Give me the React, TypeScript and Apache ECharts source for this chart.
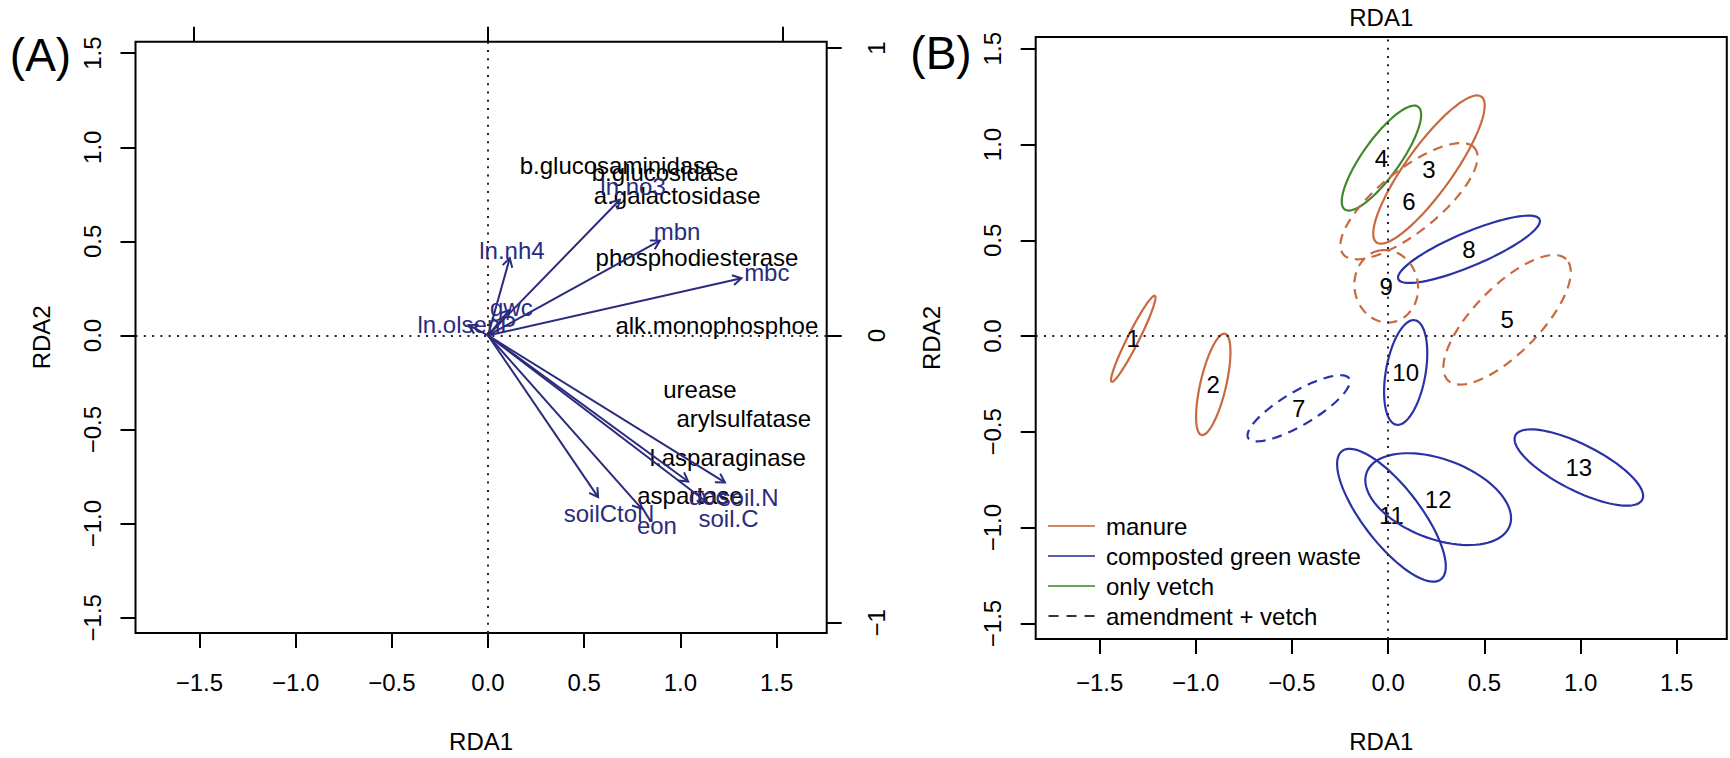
import React, { useEffect, useRef } from "react";
import * as echarts from "echarts";

// ---------- data ----------
// Panel A: environmental arrows (biplot scores)
const envNames = ["ln.nh4", "ln.no3", "mbn", "mbc", "gwc", "ln.olsenP", "soilCtoN", "eon", "doc", "soil.C", "soil.N"];
const envX = [0.113, 0.685, 0.893, 1.317, 0.11, -0.1, 0.572, 0.798, 1.04, 1.136, 1.231];
const envY = [0.411, 0.721, 0.504, 0.304, 0.135, 0.055, -0.859, -0.92, -0.776, -0.885, -0.781];

// Panel A: enzyme (species) labels
const spNames = ["b.glucosaminidase", "b.glucosidase", "a.galactosidase", "phosphodiesterase", "alk.monophosphoe", "urease", "arylsulfatase", "l.asparaginase", "aspartase"];
const spX = [0.681, 0.92, 0.983, 1.086, 1.189, 1.101, 1.329, 1.246, 1.049];
const spY = [0.902, 0.867, 0.746, 0.416, 0.052, -0.286, -0.439, -0.651, -0.85];

// Panel B: treatment ellipses
const ellLabel = ["1", "2", "3", "4", "5", "6", "7", "8", "9", "10", "11", "12", "13"];
const ellX = [-1.325, -0.909, 0.212, -0.035, 0.618, 0.108, -0.465, 0.42, -0.01, 0.091, 0.017, 0.26, 0.991];
const ellY = [-0.014, -0.252, 0.869, 0.929, 0.085, 0.704, -0.377, 0.453, 0.26, -0.19, -0.935, -0.851, -0.686];
const ellA = [0.251, 0.271, 0.468, 0.329, 0.441, 0.44, 0.305, 0.399, 0.19, 0.277, 0.422, 0.397, 0.37];
const ellB = [0.03, 0.067, 0.121, 0.097, 0.172, 0.16, 0.087, 0.088, 0.165, 0.103, 0.148, 0.208, 0.12];
const ellAngle = [63.4, 77, 54.4, 54.6, 45.8, 39, 30.7, 23, 100, 80, -52.5, -20.6, -27];
const ellGroup = ["manure", "manure", "manure", "only vetch", "manure", "manure", "composted green waste", "composted green waste", "manure", "composted green waste", "composted green waste", "composted green waste", "composted green waste"];
const ellWithVetch = [false, false, false, false, true, true, true, false, true, false, false, false, false];

const legendNames = ["manure", "composted green waste", "only vetch", "amendment + vetch"];
const mainTicks = [-1.5, -1, -0.5, 0, 0.5, 1, 1.5];
const secondTicks = [-1, 0, 1];

// ---------- styles ----------
const FONT = "Liberation Sans";
const NAVY = "#2B2B7E";
const MANURE = "#C8693F";
const GREEN_WASTE = "#2A33A6";
const VETCH = "#3E8A2C";
const groupColor: Record<string, string> = {
  manure: MANURE,
  "composted green waste": GREEN_WASTE,
  "only vetch": VETCH,
  "amendment + vetch": "#000",
};
const DASH = [10, 7];

const X_MIN = -1.832, X_MAX = 1.76, Y_MIN = -1.581, Y_MAX = 1.561;

const fmt1 = (v: number) => (v < -1e-9 ? "\u2212" : "") + Math.abs(v).toFixed(1);
const fmt0 = (v: number) => (v < -1e-9 ? "\u2212" : "") + Math.abs(v).toFixed(0);

const tickStyle = { show: true, length: 15, lineStyle: { color: "#000", width: 2 } };
const noLine = { show: false, onZero: false };
const txt = { fontSize: 24, color: "#000", fontFamily: FONT };

const SOLID_ICON = "path://M0,0H47V2.2H0Z";
const DASH_ICON = "path://M0,0H10V2.2H0Z M18,0H28V2.2H18Z M36,0H46V2.2H36Z";

function App() {
  const ref = useRef<HTMLDivElement>(null);

  useEffect(() => {
    if (!ref.current) return;
    const chart = echarts.init(ref.current, null, { renderer: "svg" });

    const arrowData = envNames.map((n, i) => [envX[i], envY[i], n]);
    const spData = spNames.map((n, i) => [spX[i], spY[i], n]);
    const ellData = ellLabel.map((l, i) => [ellX[i], ellY[i], ellA[i], ellB[i], ellAngle[i], l]);

    const zeroMark = {
      silent: true,
      symbol: ["none", "none"],
      label: { show: false },
      lineStyle: { color: "#222", width: 2, type: [2, 6.3] },
      data: [{ xAxis: 0 }, { yAxis: 0 }],
    };

    const option: any = {
      animation: false,
      backgroundColor: "#fff",
      textStyle: { fontFamily: FONT },
      grid: [
        { left: 135.5, top: 41.7, width: 691.2, height: 604, show: true, borderColor: "#000", borderWidth: 2, backgroundColor: "transparent" },
        { left: 1035.7, top: 36.7, width: 691.1, height: 605, show: true, borderColor: "#000", borderWidth: 2, backgroundColor: "transparent" },
      ],
      xAxis: [
        {
          gridIndex: 0, type: "value", min: X_MIN, max: X_MAX, position: "bottom",
          axisLine: noLine, splitLine: { show: false },
          axisTick: { ...tickStyle, customValues: mainTicks },
          axisLabel: { ...txt, customValues: mainTicks, formatter: fmt1, margin: 37 },
          name: "RDA1", nameLocation: "middle", nameGap: 96, nameTextStyle: txt,
        },
        {
          gridIndex: 0, type: "value", min: X_MIN / 1.5296, max: X_MAX / 1.5296, position: "top",
          axisLine: noLine, splitLine: { show: false },
          axisTick: { ...tickStyle, customValues: secondTicks },
          axisLabel: { show: false },
        },
        {
          gridIndex: 1, type: "value", min: X_MIN, max: X_MAX, position: "bottom",
          axisLine: noLine, splitLine: { show: false },
          axisTick: { ...tickStyle, customValues: mainTicks },
          axisLabel: { ...txt, customValues: mainTicks, formatter: fmt1, margin: 31 },
          name: "RDA1", nameLocation: "middle", nameGap: 90, nameTextStyle: txt,
        },
        {
          gridIndex: 1, type: "value", min: X_MIN, max: X_MAX, position: "top",
          axisLine: noLine, splitLine: { show: false },
          axisTick: { show: false }, axisLabel: { show: false },
          name: "RDA1", nameLocation: "middle", nameGap: 8, nameTextStyle: txt,
        },
      ],
      yAxis: [
        {
          gridIndex: 0, type: "value", min: Y_MIN, max: Y_MAX, position: "left",
          axisLine: noLine, splitLine: { show: false },
          axisTick: { ...tickStyle, customValues: mainTicks },
          axisLabel: { ...txt, customValues: mainTicks, formatter: fmt1, rotate: 90, margin: 31 },
          name: "RDA2", nameLocation: "middle", nameGap: 82, nameRotate: 90, nameTextStyle: txt,
        },
        {
          gridIndex: 0, type: "value", min: Y_MIN / 1.5265, max: Y_MAX / 1.5265, position: "right",
          axisLine: noLine, splitLine: { show: false },
          axisTick: { ...tickStyle, customValues: secondTicks },
          axisLabel: { ...txt, customValues: secondTicks, formatter: fmt0, rotate: 90, margin: 38 },
        },
        {
          gridIndex: 1, type: "value", min: Y_MIN, max: Y_MAX, position: "left",
          axisLine: noLine, splitLine: { show: false },
          axisTick: { ...tickStyle, customValues: mainTicks },
          axisLabel: { ...txt, customValues: mainTicks, formatter: fmt1, rotate: 90, margin: 31 },
          name: "RDA2", nameLocation: "middle", nameGap: 92, nameRotate: 90, nameTextStyle: txt,
        },
      ],
      legend: {
        show: true, orient: "vertical", left: 1048, top: 514,
        itemWidth: 47, itemHeight: 2.2, itemGap: 6, padding: 0,
        selectedMode: false,
        textStyle: { ...txt, lineHeight: 24, padding: [0, 0, 0, 6] },
        data: legendNames.map((n) => ({ name: n, icon: n === "amendment + vetch" ? DASH_ICON : SOLID_ICON })),
      },
      graphic: [
        { type: "text", x: 40.5, y: 55, style: { text: "(A)", fontSize: 46, fontFamily: FONT, fill: "#000", align: "center", verticalAlign: "middle" } },
        { type: "text", x: 941, y: 53, style: { text: "(B)", fontSize: 46, fontFamily: FONT, fill: "#000", align: "center", verticalAlign: "middle" } },
      ],
      series: [
        // zero lines panel A
        { type: "line", name: "zeroA", xAxisIndex: 0, yAxisIndex: 0, data: [], markLine: zeroMark },
        // zero lines panel B
        { type: "line", name: "zeroB", xAxisIndex: 2, yAxisIndex: 2, data: [], markLine: zeroMark },
        // enzyme labels
        {
          type: "custom", name: "enzymes", xAxisIndex: 0, yAxisIndex: 0, data: spData,
          renderItem: (params: any, api: any) => {
            const p = api.coord([api.value(0), api.value(1)]);
            return {
              type: "text", x: p[0], y: p[1],
              style: { text: spNames[params.dataIndex], fontSize: 24, fontFamily: FONT, fill: "#000", align: "center", verticalAlign: "middle" },
            };
          },
        },
        // arrows
        {
          type: "custom", name: "arrows", xAxisIndex: 0, yAxisIndex: 0, data: arrowData,
          renderItem: (params: any, api: any) => {
            const x = api.value(0), y = api.value(1);
            const o = api.coord([0, 0]);
            const t = api.coord([x, y]);
            const lp = api.coord([x * 1.1, y * 1.1]);
            const ang = Math.atan2(t[1] - o[1], t[0] - o[0]);
            const L = 10, s = Math.PI / 6;
            const h1 = [t[0] - L * Math.cos(ang - s), t[1] - L * Math.sin(ang - s)];
            const h2 = [t[0] - L * Math.cos(ang + s), t[1] - L * Math.sin(ang + s)];
            return {
              type: "group",
              children: [
                { type: "line", shape: { x1: o[0], y1: o[1], x2: t[0], y2: t[1] }, style: { stroke: NAVY, lineWidth: 2 } },
                { type: "polyline", shape: { points: [h1, t, h2] }, style: { stroke: NAVY, lineWidth: 2, fill: "none" } },
                { type: "text", x: lp[0], y: lp[1], style: { text: envNames[params.dataIndex], fontSize: 24, fontFamily: FONT, fill: NAVY, align: "center", verticalAlign: "middle" } },
              ],
            };
          },
        },
        // ellipses
        {
          type: "custom", name: "ellipses", xAxisIndex: 2, yAxisIndex: 2, data: ellData,
          renderItem: (params: any, api: any) => {
            const i = params.dataIndex;
            const cx = api.value(0), cy = api.value(1), a = api.value(2), b = api.value(3);
            const th = (api.value(4) * Math.PI) / 180;
            const pts: number[][] = [];
            const N = 90;
            for (let k = 0; k <= N; k++) {
              const t = (2 * Math.PI * k) / N;
              const ex = a * Math.cos(t), ey = b * Math.sin(t);
              pts.push(api.coord([cx + ex * Math.cos(th) - ey * Math.sin(th), cy + ex * Math.sin(th) + ey * Math.cos(th)]));
            }
            const c = api.coord([cx, cy]);
            const color = groupColor[ellGroup[i]];
            return {
              type: "group",
              children: [
                { type: "polyline", shape: { points: pts }, style: { stroke: color, lineWidth: 2.2, fill: "none", lineDash: ellWithVetch[i] ? DASH : null } },
                { type: "text", x: c[0], y: c[1], style: { text: ellLabel[i], fontSize: 24, fontFamily: FONT, fill: "#000", align: "center", verticalAlign: "middle" } },
              ],
            };
          },
        },
        // legend-only series
        ...legendNames.map((n) => ({
          type: "scatter", name: n, xAxisIndex: 2, yAxisIndex: 2, data: [],
          itemStyle: { color: groupColor[n] },
        })),
      ],
    };

    chart.setOption(option);
    return () => chart.dispose();
  }, []);

  return <div ref={ref} style={{ position: "fixed", left: 0, top: 0, width: 1730, height: 758, background: "#fff" }} />;
}

export default App;
